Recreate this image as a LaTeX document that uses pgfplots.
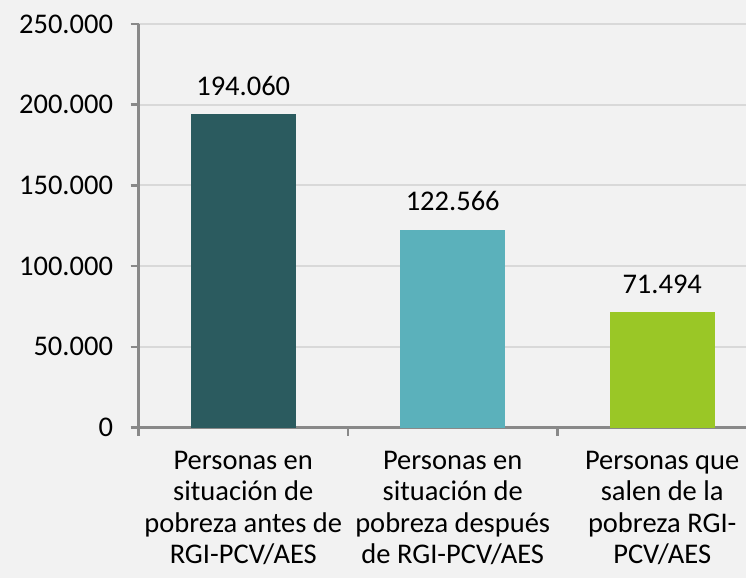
\documentclass[border=0pt]{standalone}
\usepackage{pgfplots}
\pgfplotsset{compat=1.18}
\usepackage{fontspec}
\setmainfont{Carlito}
\definecolor{bgc}{HTML}{F2F2F2}
\definecolor{axc}{HTML}{898989}
\definecolor{gridc}{HTML}{D9D9D9}
\definecolor{barA}{HTML}{2B5B5F}
\definecolor{barB}{HTML}{5BB1BB}
\definecolor{barC}{HTML}{9AC726}
\newcommand\fs{\fontsize{28.5}{31.5}\selectfont}

\begin{document}
\begin{tikzpicture}
\fill[bgc] (0,0) rectangle (746pt,578pt);
\useasboundingbox (0,0) rectangle (746pt,578pt);
\begin{axis}[
  at={(138.5pt,150.5pt)}, anchor=south west,
  scale only axis, width=607.5pt, height=403.5pt,
  xmin=-0.5, xmax=2.4, ymin=0, ymax=250000,
  axis lines=left,
  x axis line style={draw=axc, line width=2.5pt, -},
  y axis line style={draw=axc, line width=2.5pt, -},
  ybar, bar width=105pt,
  ytick={0,50000,100000,150000,200000,250000},
  ymajorgrids, grid style={draw=gridc, line width=2pt},
  tick align=outside, major tick length=8pt,
  ytick style={draw=axc, line width=2.5pt},
  xtick style={draw=axc, line width=2.5pt},
  xtick={-0.5,0.5,1.5}, xticklabels={},
  extra x ticks={0,1,2},
  extra x tick labels={{Personas en\\situación de\\pobreza antes de\\RGI-PCV/AES},
               {Personas en\\situación de\\pobreza después\\de RGI-PCV/AES},
               {Personas que\\salen de la\\pobreza RGI-\\PCV/AES}},
  extra x tick style={major tick length=0pt, xticklabel style={align=center, yshift=-20pt}},
  yticklabel style={xshift=-14pt},
  every tick label/.append style={font=\fs, text=black},
  nodes near coords,
  every node near coord/.append style={font=\fs, text=black, anchor=base, yshift=19pt},
  scaled y ticks=false,
  /pgf/number format/fixed,
  /pgf/number format/precision=0,
  /pgf/number format/1000 sep={.},
  /pgf/number format/assume math mode=true,
]
\addplot[fill=barA, draw=none, bar shift=0pt] coordinates {(0,194060)};
\addplot[fill=barB, draw=none, bar shift=0pt] coordinates {(1,122566)};
\addplot[fill=barC, draw=none, bar shift=0pt] coordinates {(2,71494)};
\end{axis}
\end{tikzpicture}
\end{document}
